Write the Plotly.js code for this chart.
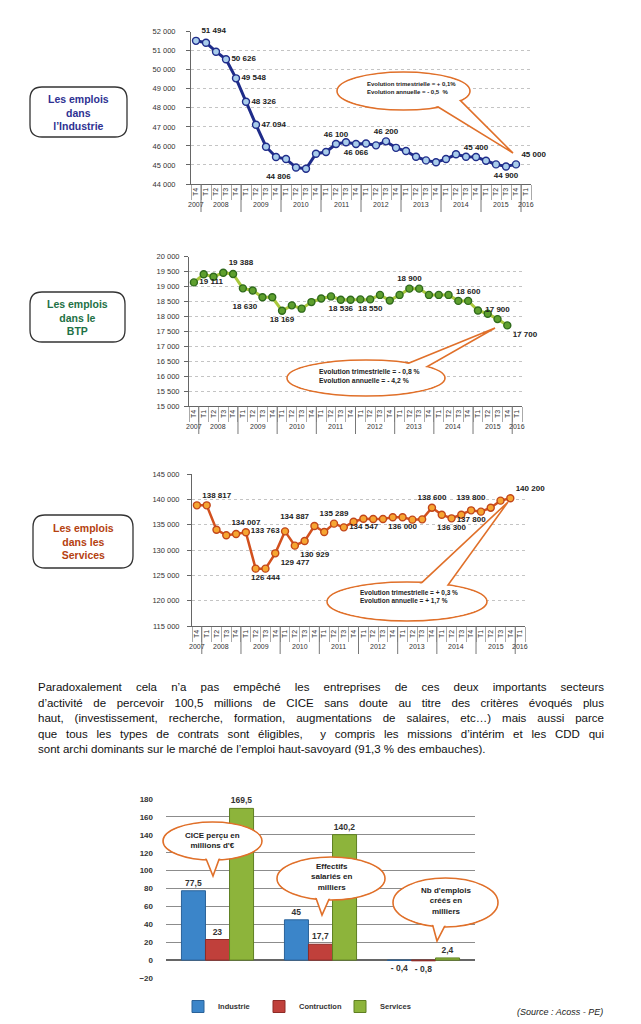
<!DOCTYPE html>
<html><head><meta charset="utf-8">
<script src="https://cdn.plot.ly/plotly-3.0.1.min.js"></script>
<style>
body{margin:0;background:#fff;}
#wrap{position:relative;width:641px;height:1024px;overflow:hidden;}
#chart{position:absolute;left:0;top:0;width:641px;height:1024px;}
#para{position:absolute;left:38px;top:680px;width:566px;font-family:"Liberation Sans",Arial,sans-serif;font-size:11.5px;line-height:15.5px;color:#111;}
#para div{text-align:justify;text-align-last:justify;}
#para div.last{text-align-last:left;}
</style></head>
<body>
<div id="wrap">
<div id="chart"></div>
<div id="para">
<div>Paradoxalement cela n’a pas empêché les entreprises de ces deux importants secteurs</div>
<div>d’activité de percevoir 100,5 millions de CICE sans doute au titre des critères évoqués plus</div>
<div>haut, (investissement, recherche, formation, augmentations de salaires, etc…) mais aussi parce</div>
<div>que tous les types de contrats sont éligibles,&nbsp; y compris les missions d’intérim et les CDD qui</div>
<div class="last">sont archi dominants sur le marché de l’emploi haut-savoyard (91,3 % des embauches).</div>
</div>
</div>
<script>
// ---------- DATA ----------
const years = ['2007','2008','2009','2010','2011','2012','2013','2014','2015','2016'];
const quarters = ['T4','T1','T2','T3','T4','T1','T2','T3','T4','T1','T2','T3','T4','T1','T2','T3','T4',
  'T1','T2','T3','T4','T1','T2','T3','T4','T1','T2','T3','T4','T1','T2','T3','T4','T1'];

const industrie = [51520,51420,50950,50550,49550,48320,47110,45960,45420,45310,44870,44800,45590,45680,
  46100,46190,46100,46130,46030,46240,45900,45730,45430,45240,45140,45310,45560,45430,45420,45220,45030,44920,45030];
const industrieLabelIdx = [0,3,4,5,6,10,14,16,19,28,31,32];
const industrieLabelText = ['51 494','50 626','49 548','48 326','47 094','44 806','46 100','46 066','46 200','45 400','44 900','45 000'];
const industrieLabelPos = ['top right','middle right','middle right','middle right','middle right','bottom left','top center','bottom center','top center','top center','bottom center','top right'];

const btp = [19140,19410,19330,19460,19420,18940,18870,18640,18640,18190,18370,18260,18480,18600,18670,18560,
  18560,18570,18570,18720,18530,18720,18930,18930,18720,18720,18720,18520,18520,18200,18090,17910,17700];
const btpLabelIdx = [0,3,7,9,15,18,22,28,31,32];
const btpLabelText = ['19 111','19 388','18 630','18 169','18 536','18 550','18 900','18 600','17 900','17 700'];
const btpLabelPos = ['middle right','top right','bottom left','bottom center','bottom center','bottom center','top center','top center','top center','bottom right'];

const services = [138816,138816,134010,132900,133160,133490,126320,126320,129340,133680,130860,131780,134740,133550,
  135200,134470,135590,136180,136120,136120,136450,136450,135990,136050,138350,136970,136250,136970,137830,137570,138350,139740,140200];
const servicesLabelIdx = [0,5,7,8,9,10,12,14,15,21,24,26,28,30,32];
const servicesLabelText = ['138 817','134 007','126 444','129 477','133 763','130 929','134 887','135 289','134 547','136 000','138 600','136 300','137 800','139 800','140 200'];
const servicesLabelPos = ['top right','top center','bottom center','bottom right','middle left','bottom right','top left','top center','middle right','bottom center','top center','bottom center','bottom center','top left','top right'];

const barGroups = ["CICE perçu en millions d'€", 'Effectifs salariés en milliers', "Nb d'emplois créés en milliers"];
const barIndustrie = [77.5, 45, -0.4];
const barConstruction = [23, 17.7, -0.8];
const barServices = [169.5, 140.2, 2.4];

// ---------- HELPERS ----------
const W = 641, H = 1024;
const px = x => x / W, py = y => 1 - y / H;
const FONT = '"Liberation Sans", Arial, sans-serif';
const traces = [];
const shapes = [];
const annotations = [];
const layout = {
  width: W, height: H, margin: {l:0, r:0, t:0, b:0},
  paper_bgcolor: '#fff', plot_bgcolor: '#fff',
  separators: ', ', showlegend: true, hovermode: false,
  font: {family: FONT, color: '#222'}
};

function roundRect(x0, y0, x1, y1, r) {
  const P = (x, y) => px(x).toFixed(5) + ',' + py(y).toFixed(5);
  return 'M' + P(x0 + r, y0) + ' L' + P(x1 - r, y0) + ' Q' + P(x1, y0) + ' ' + P(x1, y0 + r) +
    ' L' + P(x1, y1 - r) + ' Q' + P(x1, y1) + ' ' + P(x1 - r, y1) +
    ' L' + P(x0 + r, y1) + ' Q' + P(x0, y1) + ' ' + P(x0, y1 - r) +
    ' L' + P(x0, y0 + r) + ' Q' + P(x0, y0) + ' ' + P(x0 + r, y0) + ' Z';
}

function titleBox(x0, y0, x1, y1, text, color) {
  shapes.push({type:'path', xref:'paper', yref:'paper', path: roundRect(x0, y0, x1, y1, 12),
    line:{color:'#333', width:1.3}, fillcolor:'rgba(0,0,0,0)', layer:'above'});
  annotations.push({xref:'paper', yref:'paper', x: px((x0 + x1) / 2), y: py((y0 + y1) / 2),
    xanchor:'center', yanchor:'middle', showarrow:false, align:'center', text: text,
    font:{family: FONT, size: 10.5, color: color, weight: 'bold'}});
}

function bubble(ex0, ey0, ex1, ey1, baseXs, tip) {
  const cx = (ex0 + ex1) / 2, cy = (ey0 + ey1) / 2, a = (ex1 - ex0) / 2, b = (ey1 - ey0) / 2;
  const sgn = tip[1] > cy ? 1 : -1;
  const base = baseXs.map(x => {
    const d = Math.max(0, 1 - Math.pow((x - cx) / a, 2));
    return [x, cy + sgn * 0.55 * b * Math.sqrt(d)];
  });
  const orange = '#E0702A';
  shapes.push({type:'circle', xref:'paper', yref:'paper', x0:px(ex0), x1:px(ex1), y0:py(ey1), y1:py(ey0),
    line:{color:orange, width:1.6}, fillcolor:'#fff', layer:'above'});
  const P = (p) => px(p[0]).toFixed(5) + ',' + py(p[1]).toFixed(5);
  shapes.push({type:'path', xref:'paper', yref:'paper',
    path: 'M' + P(base[0]) + ' L' + P(tip) + ' L' + P(base[1]) + ' Z',
    line:{color:orange, width:1.6}, fillcolor:'#fff', layer:'above'});
  shapes.push({type:'circle', xref:'paper', yref:'paper', x0:px(ex0 + 1.2), x1:px(ex1 - 1.2), y0:py(ey1 - 1.2), y1:py(ey0 + 1.2),
    line:{width:0}, fillcolor:'#fff', layer:'above'});
}

function bubbleText(x, y, text, size) {
  annotations.push({xref:'paper', yref:'paper', x: px(x), y: py(y), xanchor:'center', yanchor:'middle',
    showarrow:false, align:'center', text: text, font:{family: FONT, size: size, color:'#222', weight:'bold'}});
}

function lineChart(k, o) {
  const sfx = k === 1 ? '' : String(k);
  const xr = 'x' + sfx, yr = 'y' + sfx;
  const xs = o.values.map((_, i) => i);
  const text = o.values.map(() => '');
  const pos = o.values.map(() => 'top center');
  o.labelIdx.forEach((idx, j) => { text[idx] = o.labelText[j]; pos[idx] = o.labelPos[j]; });
  traces.push({type:'scatter', mode:'lines+markers+text', x: xs, y: o.values, xaxis: xr, yaxis: yr,
    text: text, textposition: pos, cliponaxis: false, showlegend: false, hoverinfo: 'skip',
    textfont: {family: FONT, size: 8, color: '#222', weight: 'bold'},
    line: {color: o.line, width: o.lineWidth},
    marker: {size: 7, color: o.fill, line: {color: o.edge, width: 1.4}}});
  layout['xaxis' + sfx] = {domain: [px(o.left), px(o.right)], anchor: yr,
    range: [-0.5, quarters.length - 0.5], tickmode: 'array',
    tickvals: quarters.map((_, i) => i), ticktext: quarters, tickangle: -90,
    tickfont: {family: FONT, size: 7, color: '#333'}, ticks: '',
    showgrid: false, zeroline: false, showline: true, linecolor: '#666', linewidth: 1,
    minor: {ticks: 'outside', ticklen: 15, tickcolor: '#aaa', tickwidth: 1, tick0: 0.5, dtick: 1, showgrid: false},
    fixedrange: true};
  layout['yaxis' + sfx] = {domain: [py(o.bottom), py(o.top)], anchor: xr, range: o.range,
    tickmode: 'linear', tick0: o.range[0], dtick: o.dtick, tickformat: ',d',
    tickfont: {family: FONT, size: 7.5, color: '#333'}, ticks: 'outside', ticklen: 4, tickcolor: '#666',
    ticklabelstandoff: o.standoff,
    showline: true, linecolor: '#666', linewidth: 1, gridcolor: '#c4c4c4', griddash: 'dot', gridwidth: 1,
    zeroline: false, fixedrange: true};
  // year labels & dividers
  const starts = [0];
  quarters.forEach((q, i) => { if (i > 0 && q === 'T1') starts.push(i); });
  starts.forEach((s, j) => {
    const e = j + 1 < starts.length ? starts[j + 1] - 1 : quarters.length - 1;
    annotations.push({xref: xr, yref: 'paper', x: (s + e) / 2, y: py(o.bottom + 20), text: years[j],
      showarrow: false, xanchor: 'center', yanchor: 'middle', font: {family: FONT, size: 7, color: '#333'}});
    if (j > 0) shapes.push({type: 'line', xref: xr, yref: 'paper', x0: s - 0.5, x1: s - 0.5,
      y0: py(o.bottom), y1: py(o.bottom + 28), line: {color: '#777', width: 1}});
  });
}

// ---------- LINE CHARTS ----------
lineChart(1, {values: industrie, labelIdx: industrieLabelIdx, labelText: industrieLabelText, labelPos: industrieLabelPos,
  line: '#1F2C8A', lineWidth: 3, fill: '#A9CDEB', edge: '#1F2C8A',
  left: 191, right: 531, top: 31.7, bottom: 184, range: [44000, 52000], dtick: 1000, standoff: 9});
lineChart(2, {values: btp, labelIdx: btpLabelIdx, labelText: btpLabelText, labelPos: btpLabelPos,
  line: '#A9C83C', lineWidth: 3, fill: '#5E9F2E', edge: '#2F6A1C',
  left: 189, right: 522, top: 256.7, bottom: 406, range: [15000, 20000], dtick: 500, standoff: 3});
lineChart(3, {values: services, labelIdx: servicesLabelIdx, labelText: servicesLabelText, labelPos: servicesLabelPos,
  line: '#D2501E', lineWidth: 2.5, fill: '#F6A632', edge: '#C2461A',
  left: 192, right: 525, top: 474, bottom: 626, range: [115000, 145000], dtick: 5000, standoff: 6});

// title boxes
titleBox(30, 87, 127, 137, 'Les emplois<br>dans<br>l’Industrie', '#2E3192');
titleBox(30, 292, 125, 342, 'Les emplois<br>dans le<br>BTP', '#1E7145');
titleBox(33, 515, 133, 568, 'Les emplois<br>dans les<br>Services', '#B5410F');

// callouts on line charts
bubble(337, 72, 470, 110, [428, 457], [513, 153]);
annotations.push({xref:'paper', yref:'paper', x: px(365), y: py(87.5), xanchor:'left', yanchor:'middle', align:'left', showarrow:false,
  text: 'Evolution trimestrielle = + 0,1%<br>Evolution annuelle = - 0,5  %', font:{family: FONT, size: 6, color:'#222', weight:'bold'}});
bubble(287, 360, 445, 396, [395, 420], [495, 328]);
annotations.push({xref:'paper', yref:'paper', x: px(317), y: py(376), xanchor:'left', yanchor:'middle', align:'left', showarrow:false,
  text: 'Evolution trimestrielle = - 0,8 %<br>Evolution annuelle = - 4,2 %', font:{family: FONT, size: 6.8, color:'#222', weight:'bold'}});
bubble(327, 582, 487, 621, [413, 443], [508, 502]);
annotations.push({xref:'paper', yref:'paper', x: px(358), y: py(596.5), xanchor:'left', yanchor:'middle', align:'left', showarrow:false,
  text: 'Evolution trimestrielle = + 0,3 %<br>Evolution annuelle = + 1,7 %', font:{family: FONT, size: 6.5, color:'#222', weight:'bold'}});

// ---------- BAR CHART ----------
const fmt = v => (v < 0 ? '- ' : '') + String(Math.abs(v)).replace('.', ',');
const barSeries = [
  {name: 'Industrie', values: barIndustrie, color: '#3B85C9', edge: '#2A6299'},
  {name: 'Contruction', values: barConstruction, color: '#C0403B', edge: '#8E2B27'},
  {name: 'Services', values: barServices, color: '#8DB43B', edge: '#5F7F22'}
];
barSeries.forEach(s => traces.push({type: 'bar', name: s.name, x: barGroups, y: s.values, xaxis: 'x4', yaxis: 'y4',
  marker: {color: s.color, line: {color: s.edge, width: 1}}, text: s.values.map(fmt), textposition: 'outside',
  textfont: {family: FONT, size: 8.5, color: '#333', weight: 'bold'}, cliponaxis: false, hoverinfo: 'skip'}));
layout.xaxis4 = {domain: [px(166), px(475)], anchor: 'y4', type: 'category', showticklabels: false, ticks: '',
  showgrid: false, zeroline: false, showline: false, fixedrange: true};
layout.yaxis4 = {domain: [py(978), py(799)], anchor: 'x4', range: [-20, 180], tickmode: 'linear', tick0: -20, dtick: 20,
  tickfont: {family: FONT, size: 8, color: '#333', weight: 'bold'}, ticklabelstandoff: 12,
  gridcolor: '#8c8c8c', gridwidth: 1, zeroline: true, zerolinecolor: '#666', zerolinewidth: 1.2,
  showline: false, fixedrange: true};
layout.barmode = 'group';
layout.bargap = 0.3;
layout.bargroupgap = 0;
layout.legend = {orientation: 'h', x: px(178), y: py(992), xanchor: 'left', yanchor: 'top',
  font: {family: FONT, size: 7.5, color: '#333', weight: 'bold'}, itemwidth: 30, entrywidth: 36, entrywidthmode: 'pixels',
  bgcolor: 'rgba(0,0,0,0)', tracegroupgap: 0};

// bubbles on bar chart
bubble(163, 822, 262, 860, [203, 222], [213, 876]);
bubbleText(212.5, 840.5, 'CICE perçu en<br>millions d\'€', 8);
bubble(277, 857, 385, 900, [313, 333], [322, 915]);
bubbleText(331, 876.5, 'Effectifs<br>salariés en<br>milliers', 8);
bubble(393, 878, 498, 927, [430, 450], [437, 941]);
bubbleText(445.5, 901, 'Nb d\'emplois<br>créés en<br>milliers', 8);

// source
annotations.push({xref:'paper', yref:'paper', x: px(605), y: py(1012), xanchor:'right', yanchor:'middle', showarrow:false,
  text: '<i>(Source : Acoss - PE)</i>', font:{family: FONT, size: 9, color:'#222'}});

layout.shapes = shapes;
layout.annotations = annotations;
Plotly.newPlot('chart', traces, layout, {displayModeBar: false, staticPlot: true});
</script>
</body></html>
